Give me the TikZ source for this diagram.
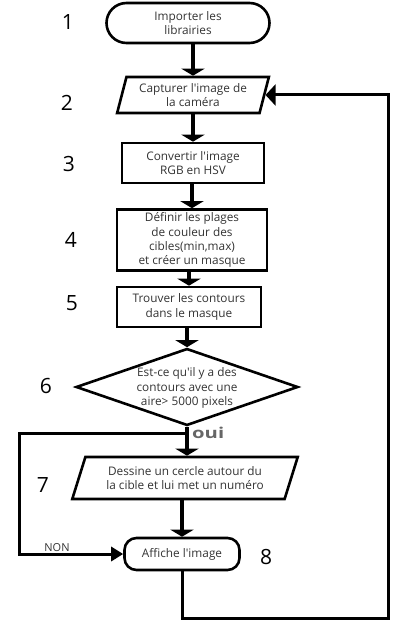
\documentclass[tikz,border=0pt]{standalone}
\usepackage{fontspec}
\setmainfont{Open Sans}[Ligatures=TeXOff]
\usetikzlibrary{shapes.geometric,arrows.meta}
\begin{document}
\begin{tikzpicture}[x=1pt,y=-1pt,
  txt/.style={align=center,inner sep=0pt,font=\fontsize{11.8}{14.2}\selectfont,text=black!80},
  box/.style={draw,line width=2.6pt,txt},
  para/.style={box,trapezium,trapezium stretches=true},
  arr/.style={line width=3.5pt,-{Triangle[width=23pt,length=7pt]}},
  loopline/.style={line width=3pt},
  num/.style={font=\fontsize{21}{24}\selectfont,inner sep=0pt}]
\useasboundingbox (0,0) rectangle (400,631);
% nodes
\node[box,rounded corners=20pt,minimum width=163pt,minimum height=40pt] (n1) at (188,23) {Importer les\\librairies};
\node[para,trapezium left angle=72,trapezium right angle=108,minimum width=152pt,minimum height=36pt] (n2) at (193,95) {Capturer l'image de\\la caméra};
\node[box,minimum width=142pt,minimum height=40pt] (n3) at (193,163) {Convertir l'image\\RGB en HSV};
\node[box,minimum width=150pt,minimum height=61pt] (n4) at (192,240) {Définir les plages\\de couleur des\\cibles(min,max)\\et créer un masque};
\node[box,minimum width=144pt,minimum height=40pt] (n5) at (189,307) {Trouver les contours\\dans le masque};
\node[box,diamond,aspect=2.9,minimum width=222pt,minimum height=77pt] (d6) at (187,387) {};
\node[txt] (d6t) at (187,388) {Est-ce qu'il y a des\\contours avec une\\aire> 5000 pixels};
\node[para,trapezium left angle=66,trapezium right angle=114,minimum width=226pt,minimum height=42pt] (n7) at (185,478) {Dessine un cercle autour du\\la cible et lui met un numéro};
\node[box,rounded corners=12pt,minimum width=115pt,minimum height=32pt] (n8) at (182,554) {Affiche l'image};
% numbers
\node[num] (l1) at (68,22) {1};
\node[num] (l2) at (67,103) {2};
\node[num] (l3) at (69,164) {3};
\node[num] (l4) at (71,240) {4};
\node[num] (l5) at (72,303) {5};
\node[num] (l6) at (46,386) {6};
\node[num] (l7) at (43,485) {7};
\node[num] (l8) at (266,557) {8};
% labels
\node[font=\bfseries\fontsize{15}{15}\selectfont,text=black!60,anchor=west,inner sep=0pt] (oui) at (192,433) {\scalebox{1.35}[1]{oui}};
\node[font=\fontsize{11}{12}\selectfont,text=black!80,inner sep=0pt] (non) at (57,548) {NON};
% connectors
\draw[arr] (n2.north |- n1.south) -- (n2.north);
\draw[arr] (n3.north |- n2.south) -- (n3.north);
\draw[arr] (n4.north |- n3.south) -- (n4.north);
\draw[arr] (n5.north |- n4.south) -- (n5.north);
\draw[arr] (d6.north |- n5.south) -- (d6.north);
\draw[arr] (d6.south) -- (d6.south |- n7.north);
\draw[arr] (n8.north |- n7.south) -- (n8.north);
\coordinate (nl) at (19,433);
\draw[loopline,-{Triangle[width=14pt,length=12pt]}] (d6.south) |- (nl) |- (n8.west);
\coordinate (lb) at (388,618);
\draw[loopline,-{Triangle[width=21pt,length=10pt]}] (n8.south) |- (lb) |- (n2.east);
\end{tikzpicture}
\end{document}
